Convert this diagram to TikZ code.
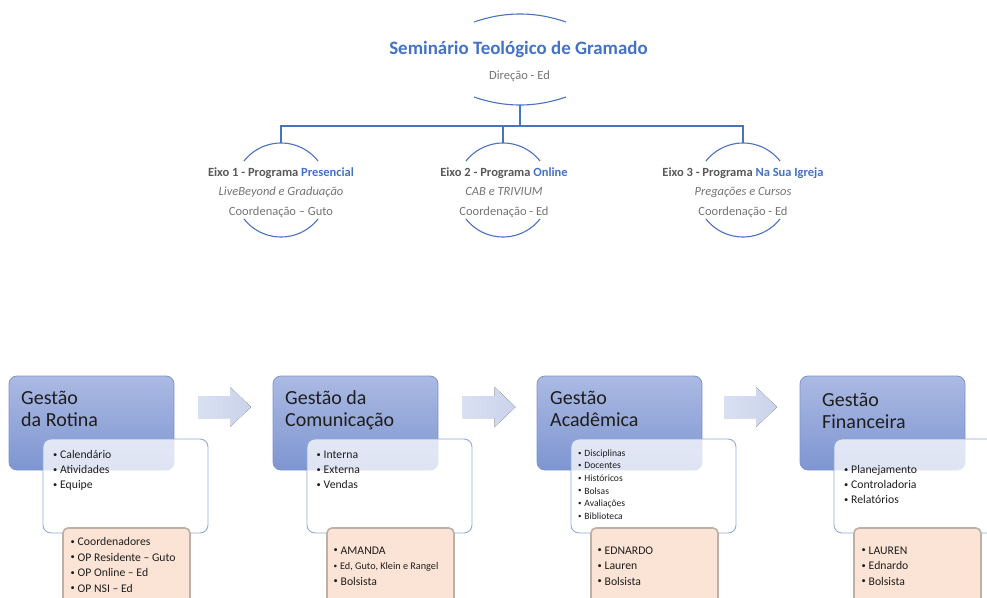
\documentclass[tikz,border=0pt]{standalone}
\usepackage{fontspec}
\setmainfont{Carlito}
\usepackage{xcolor}
\usepackage{graphicx}
\definecolor{stg_blue}{HTML}{4472C4}
\definecolor{line_blue}{HTML}{4A72C0}
\definecolor{eixo_gray}{HTML}{595959}
\definecolor{soft_gray}{HTML}{747474}
\definecolor{head_top}{HTML}{ABBAE3}
\definecolor{head_bottom}{HTML}{7E95D0}
\definecolor{head_edge}{HTML}{8094CB}
\definecolor{list_edge}{HTML}{8FAADC}
\definecolor{team_fill}{HTML}{FBE4D5}
\definecolor{team_edge}{HTML}{BDB1A7}
\definecolor{flow_left}{HTML}{D9E0F2}
\definecolor{flow_right}{HTML}{CAD3EC}
\definecolor{ink}{HTML}{1E1E1E}
\usepackage{tikz}

\newcommand{\blt}{\raisebox{0.12em}{\scalebox{0.72}{\textbullet}}\hspace{2.8pt}}

\tikzset{
  arcline/.style={line_blue, line width=1.1pt},
  busline/.style={line_blue, line width=1.1pt},
  titletext/.style={anchor=base, inner sep=0, text=stg_blue, font=\fontsize{18.9}{22}\selectfont\bfseries},
  subtext/.style={anchor=base, inner sep=0, text=soft_gray, font=\fontsize{12.5}{15}\selectfont},
  eixoring/.style={circle, minimum size=94, inner sep=0, outer sep=0},
  eixotext/.style={anchor=north, align=center, inner sep=0, text=soft_gray, font=\fontsize{12.5}{19.5}\selectfont},
  headbox/.style={rectangle, rounded corners=8, minimum width=165, minimum height=94, inner sep=0,
    top color=head_top, bottom color=head_bottom, draw=head_edge, line width=0.8pt},
  headtext/.style={anchor=north west, align=left, inner sep=0, text=ink, font=\fontsize{20}{22}\selectfont},
  listbox/.style={rectangle, rounded corners=8, minimum width=165, minimum height=94, inner sep=0,
    fill=white, fill opacity=0.75, draw=list_edge, draw opacity=1, line width=0.9pt},
  listtext/.style={anchor=north west, align=left, inner sep=0, text=ink, font=\fontsize{11.7}{15}\selectfont},
  smalllist/.style={listtext, font=\fontsize{9.6}{12.6}\selectfont},
  teambox/.style={rectangle, rounded corners=5, minimum width=127, minimum height=84, inner sep=0,
    fill=team_fill, draw=team_edge, line width=1.6pt},
  teamtext/.style={anchor=north west, align=left, inner sep=0, text=ink, font=\fontsize{11.7}{15.5}\selectfont},
  flowarrow/.style={left color=flow_left, right color=flow_right, draw=none}
}

\begin{document}
\begin{tikzpicture}[x=1pt, y=1pt]
  \useasboundingbox (0,0) rectangle (987,-597);
  \fill[white] (0,0) rectangle (987,-597);

  % direction
  \node[titletext] (seminario) at (518.5,-54) {Seminário Teológico de Gramado};
  \node[subtext] (direcao) at (519.5,-79) {Direção - Ed};
  \draw[arcline] (474,-22) .. controls (505,-11.3) and (535,-11.3) .. (566,-22);
  \draw[arcline] (474,-97) .. controls (505,-107.7) and (535,-107.7) .. (566,-97);
  \coordinate (hub) at (520,-105);
  \coordinate (bus) at (520,-126);

  % eixos
  \node[eixoring] (eixoA) at (281,-190) {};
  \node[eixoring] (eixoB) at (503,-190) {};
  \node[eixoring] (eixoC) at (743,-190) {};
  \foreach \e in {eixoA, eixoB, eixoC} {
    \draw[arcline] (\e.38) arc (38:142:47);
    \draw[arcline] (\e.218) arc (218:322:47);
  }
  \node[eixotext] (eixoAtext) at (281,-162.4) {\strut{\bfseries\color{eixo_gray}Eixo 1 - Programa \textcolor{stg_blue}{Presencial}}\\{\itshape LiveBeyond e Graduação}\\Coordenação – Guto};
  \node[eixotext] (eixoBtext) at (504,-162.4) {\strut{\bfseries\color{eixo_gray}Eixo 2 - Programa \textcolor{stg_blue}{Online}}\\{\itshape CAB e TRIVIUM}\\Coordenação - Ed};
  \node[eixotext] (eixoCtext) at (743,-162.4) {\strut{\bfseries\color{eixo_gray}Eixo 3 - Programa \textcolor{stg_blue}{Na Sua Igreja}}\\{\itshape Pregações e Cursos}\\Coordenação - Ed};

  \draw[busline] (hub) -- (bus);
  \draw[busline] (bus) -| (eixoA.north);
  \draw[busline] (bus) -| (eixoB.north);
  \draw[busline] (bus) -| (eixoC.north);

  % arrows between the areas
  \foreach \x in {198, 462.5, 724} {
    \fill[flowarrow] (\x,-396) -- (\x+32,-396) -- (\x+32,-387) -- (\x+53,-407)
      -- (\x+32,-427) -- (\x+32,-418) -- (\x,-418) -- cycle;
  }

  % Gestao da Rotina
  \node[headbox] (rotina) at (91.5,-423) {};
  \node[headtext] (rotinaTitle) at (21,-388.6) {\strut Gestão\\da Rotina};
  \node[listbox] (rotinaList) at (125.5,-486) {};
  \node[listtext] (rotinaItems) at (53,-448) {\strut\blt Calendário\\\blt Atividades\\\blt Equipe};
  \node[teambox] (rotinaTeam) at (126.5,-570) {};
  \node[teamtext] (rotinaPeople) at (70.5,-534.5) {\strut\blt Coordenadores\\\blt OP Residente – Guto\\\blt OP Online – Ed\\\blt OP NSI – Ed};

  % Gestao da Comunicacao
  \node[headbox] (comunicacao) at (355.5,-423) {};
  \node[headtext] (comunicacaoTitle) at (285,-388.6) {\strut Gestão da\\Comunicação};
  \node[listbox] (comunicacaoList) at (389.5,-486) {};
  \node[listtext] (comunicacaoItems) at (316.5,-448) {\strut\blt Interna\\\blt Externa\\\blt Vendas};
  \node[teambox] (comunicacaoTeam) at (390.5,-570) {};
  \node[teamtext] (comunicacaoPeople) at (333.5,-543.2) {\strut\blt AMANDA\\{\fontsize{10.2}{15.5}\selectfont\blt Ed, Guto, Klein e Rangel}\\\blt Bolsista};

  % Gestao Academica
  \node[headbox] (academica) at (619.5,-423) {};
  \node[headtext] (academicaTitle) at (550,-388.6) {\strut Gestão\\Acadêmica};
  \node[listbox] (academicaList) at (653.5,-486) {};
  \node[smalllist] (academicaItems) at (578,-447.2) {\strut\blt Disciplinas\\\blt Docentes\\\blt Históricos\\\blt Bolsas\\\blt Avaliações\\\blt Biblioteca};
  \node[teambox] (academicaTeam) at (654.5,-570) {};
  \node[teamtext] (academicaPeople) at (597.5,-543.2) {\strut\blt EDNARDO\\\blt Lauren\\\blt Bolsista};

  % Gestao Financeira
  \node[headbox] (financeira) at (882.5,-423) {};
  \node[headtext] (financeiraTitle) at (822,-390.6) {\strut Gestão\\Financeira};
  \node[listbox] (financeiraList) at (916.5,-486) {};
  \node[listtext] (financeiraItems) at (844,-463) {\strut\blt Planejamento\\\blt Controladoria\\\blt Relatórios};
  \node[teambox] (financeiraTeam) at (917.5,-570) {};
  \node[teamtext] (financeiraPeople) at (861.5,-543.2) {\strut\blt LAUREN\\\blt Ednardo\\\blt Bolsista};
\end{tikzpicture}
\end{document}
